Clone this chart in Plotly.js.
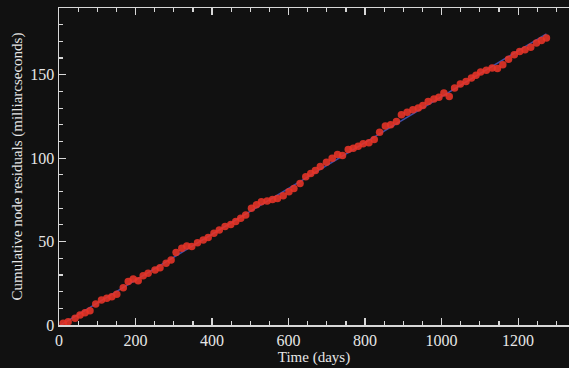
<!DOCTYPE html>
<html>
<head>
<meta charset="utf-8">
<script src="https://cdn.plot.ly/plotly-3.0.1.min.js"></script>
<style>html,body{margin:0;padding:0;background:#111111;overflow:hidden;}#chart{width:569px;height:368px;}</style>
</head>
<body>
<div id="chart"></div>
<script>
const days = [11,24,42,55,68,81,96,111,125,138,151,168,181,194,207,220,233,251,264,280,293,306,321,334,347,362,377,390,405,419,434,449,462,475,488,503,516,529,544,558,571,586,601,614,630,645,658,670,683,699,714,728,741,756,769,782,795,810,824,838,853,867,882,895,910,925,939,951,965,980,993,1006,1020,1034,1049,1064,1078,1090,1102,1117,1132,1146,1160,1175,1190,1204,1218,1233,1248,1261,1274];
const residuals = [1,2,4,6,7.4,8.6,12.6,15,16,17,18.4,22.3,26,27.5,26.5,29.5,31,33,34.3,37,39,43.5,46,47.3,47,49.3,51,52.5,55,57,59,60.3,62,64,66,70,72,73.8,74.3,75.2,75.8,77.4,79.8,81.8,84.8,88.8,90.8,92.6,95,97.6,100,102.2,101.6,105.2,106,107.2,108.6,109.2,111.2,115.6,119.2,120,122,126,127.5,129,130,131.5,134,135.5,136.5,139,137,142,144.5,146,148,149.7,151.7,152.7,154,153.7,156,159.3,162,164,165,166.5,169,170.5,172];
const xTickVals = [0,200,400,600,800,1000,1200];
const yTickVals = [0,50,100,150];

// least-squares fit line through the residuals
const n = days.length;
let sx=0, sy=0, sxx=0, sxy=0;
for (let i=0;i<n;i++){ sx+=days[i]; sy+=residuals[i]; sxx+=days[i]*days[i]; sxy+=days[i]*residuals[i]; }
const slope = (n*sxy - sx*sy)/(n*sxx - sx*sx);
const icpt = (sy - slope*sx)/n;
const fitX = [0, days[n-1]];
const fitY = fitX.map(d => icpt + slope*d);

const axisColor = '#d8d8d8';
const fam = '"Liberation Serif", "DejaVu Serif", serif';
const font = {family:fam, size:16, color:'#e6e6e6'};

Plotly.newPlot('chart', [
  {x: fitX, y: fitY, mode:'lines', line:{color:'#3f4fa8', width:1.5}, hoverinfo:'skip'},
  {x: days, y: residuals, mode:'markers', marker:{color:'rgba(232,52,40,0.88)', size:7.5}}
], {
  width:569, height:368,
  paper_bgcolor:'#111111', plot_bgcolor:'#111111',
  margin:{l:59, r:0, t:8, b:43},
  showlegend:false,
  font: font,
  xaxis:{
    range:[0,1333], tickvals:xTickVals, ticks:'inside', ticklen:7, tickwidth:1.2, tickcolor:axisColor,
    showline:true, linecolor:axisColor, linewidth:1.5, mirror:'ticks', showgrid:false, zeroline:false,
    minor:{dtick:50, tick0:0, ticks:'inside', ticklen:4, tickcolor:axisColor, tickwidth:1.2, showgrid:false},
    tickfont:font,
    title:{text:'Time (days)', font:{family:fam, size:15, color:'#e6e6e6'}, standoff:4}
  },
  yaxis:{
    range:[0,190], tickvals:yTickVals, ticks:'inside', ticklen:7, tickwidth:1.2, tickcolor:axisColor,
    showline:true, linecolor:axisColor, linewidth:1.5, showgrid:false, zeroline:false,
    minor:{dtick:10, tick0:0, ticks:'inside', ticklen:4, tickcolor:axisColor, tickwidth:1.2, showgrid:false},
    tickfont:font,
    title:{text:'Cumulative node residuals (milliarcseconds)', font:{family:fam, size:15, color:'#e6e6e6'}, standoff:4}
  }
}, {displayModeBar:false, staticPlot:true});
</script>
</body>
</html>
